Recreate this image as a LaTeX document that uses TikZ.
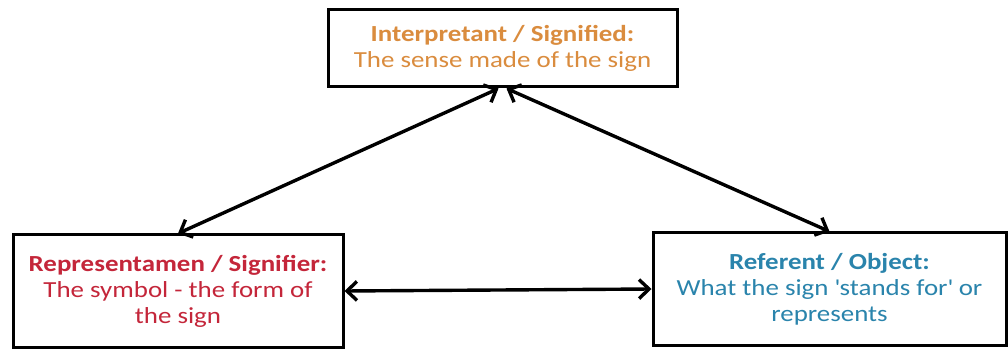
\documentclass[tikz,border=0pt]{standalone}
\usepackage{fontspec}
\setmainfont{Carlito}
\newfontfamily\signfont[FakeStretch=1.17]{Carlito}
\definecolor{orange1}{RGB}{218, 140, 62}
\definecolor{red1}{RGB}{196, 38, 58}
\definecolor{blue1}{RGB}{42, 132, 172}
\usetikzlibrary{arrows.meta, positioning}

\begin{document}
\begin{tikzpicture}[x=1pt, y=1pt,
    signbox/.style={draw=black, line width=3pt, fill=white, align=center, inner sep=4pt,
      font=\signfont\fontsize{23}{26}\selectfont},
    link/.style={line width=3.4pt, {Straight Barb[length=10pt, width=19pt]}-{Straight Barb[length=10pt, width=19pt]}}]
  \useasboundingbox (0,0) rectangle (1008,348);
  % the three corners of the sign
  \node[signbox, minimum width=349pt, minimum height=77pt, text=orange1] (interp) at (502.5,299.5) {
    \textbf{Interpretant / Signified:}\\
    The sense made of the sign
  };
  \node[signbox, minimum width=330pt, minimum height=112pt, text=red1] (repr) at (178,57) {
    \textbf{Representamen / Signifier:}\\
    The symbol - the form of\\
    the sign
  };
  \node[signbox, minimum width=353pt, minimum height=112pt, text=blue1] (referent) at (829.5,59) {
    \textbf{Referent / Object:}\\
    What the sign \textquotesingle stands for\textquotesingle\ or\\
    represents
  };
  % links between them
  \draw[link] (interp.south) ++(-4,0) coordinate (inl) (inl) -- (repr.north);
  \draw[link] (interp.south) ++(4,0) coordinate (inr) (inr) -- (referent.north);
  \draw[link] (repr.east) -- (referent.west);
\end{tikzpicture}
\end{document}
